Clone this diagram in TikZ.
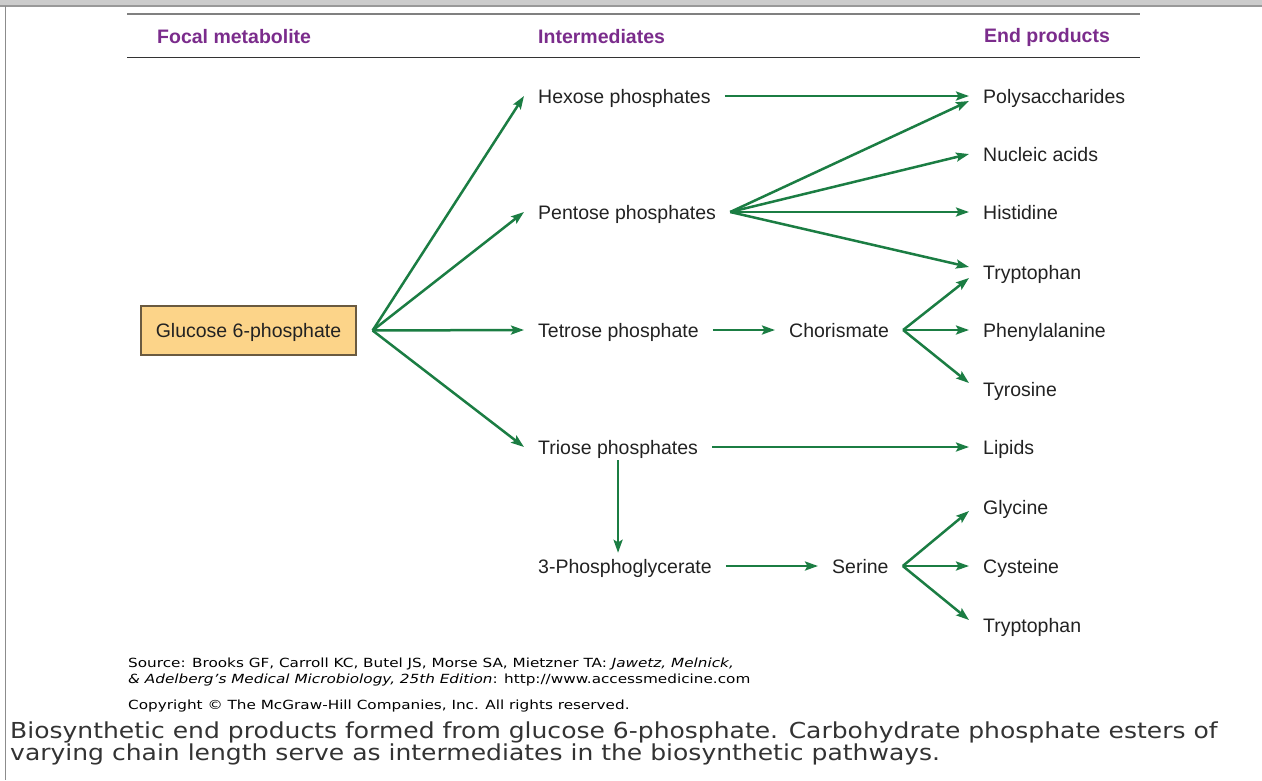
\documentclass[tikz,border=0pt]{standalone}
\usepackage{fontspec}
\setmainfont{Liberation Sans}
\newfontfamily\notefont{DejaVu Sans}[ItalicFont={DejaVu Sans Oblique}, FakeStretch=1.21]
\newfontfamily\capfont{DejaVu Sans}[FakeStretch=1.137]
\usetikzlibrary{arrows.meta,calc}

\definecolor{pathgreen}{HTML}{1B7D43}
\definecolor{headpurple}{HTML}{7B2C8C}
\definecolor{boxfill}{HTML}{FCD489}
\definecolor{boxline}{HTML}{6A5A40}
\definecolor{labeltext}{HTML}{222222}
\definecolor{captiontext}{HTML}{333333}

\tikzset{
  lbl/.style={anchor=west, font=\fontsize{19.5}{22}\selectfont, text=labeltext,
    inner xsep=14pt, inner ysep=6pt, text height=14pt, text depth=0pt},
  head/.style={anchor=west, font=\bfseries\fontsize{19.5}{22}\selectfont,
    text=headpurple, inner sep=0pt},
  focalbox/.style={draw=boxline, line width=1.2pt, fill=boxfill,
    minimum width=215pt, minimum height=49pt, inner sep=0pt,
    text height=14pt, text depth=0pt,
    font=\fontsize{19.5}{22}\selectfont, text=labeltext},
  flow/.style={draw=pathgreen, line width=2.5pt,
    -{Stealth[length=13pt,width=9pt,inset=2.5pt]}},
  note/.style={anchor=north west, inner sep=0pt, align=left,
    font=\notefont\fontsize{12.6}{16}\selectfont, text=black},
  caption/.style={anchor=north west, inner sep=0pt, align=left,
    font=\capfont\fontsize{22}{21}\selectfont, text=captiontext}
}

\begin{document}
\begin{tikzpicture}[x=1pt,y=-1pt]
\useasboundingbox (0,0) rectangle (1262,780);
\fill[white] (0,0) rectangle (1262,780);

% window frame
\fill[black!20] (0,0) rectangle (1262,6);
\draw[black!40, line width=1.2pt] (0,6) -- (1262,6);
\draw[black!45, line width=1.5pt] (5.5,6) -- (5.5,780);

% column headings and rules
\draw[black!50, line width=2.5pt] (127,14) -- (1140,14);
\draw[black!80, line width=1.4pt] (127,57.5) -- (1140,57.5);
\node[head] (hfocal) at (157,37) {Focal metabolite};
\node[head] (hinter) at (538,37) {Intermediates};
\node[head] (hend)   at (984,37) {End products};

% focal metabolite
\node[focalbox] (g6p) at (248.5,330.5) {Glucose 6-phosphate};

% intermediates
\node[lbl] (hex) at (524,96)  {Hexose phosphates};
\node[lbl] (pen) at (524,212) {Pentose phosphates};
\node[lbl] (tet) at (524,330) {Tetrose phosphate};
\node[lbl] (tri) at (524,447) {Triose phosphates};
\node[lbl] (pga) at (524,566) {3-Phosphoglycerate};
\node[lbl] (cho) at (775,330) {Chorismate};
\node[lbl] (ser) at (818,566) {Serine};

% end products
\node[lbl] (poly) at (969,96)  {Polysaccharides};
\node[lbl] (nuc)  at (969,154) {Nucleic acids};
\node[lbl] (his)  at (969,212) {Histidine};
\node[lbl] (trpa) at (969,272) {Tryptophan};
\node[lbl] (phe)  at (969,330) {Phenylalanine};
\node[lbl] (tyr)  at (969,389) {Tyrosine};
\node[lbl] (lip)  at (969,447) {Lipids};
\node[lbl] (gly)  at (969,507) {Glycine};
\node[lbl] (cys)  at (969,566) {Cysteine};
\node[lbl] (trpb) at (969,625) {Tryptophan};

% glucose 6-phosphate to the intermediates
\draw[flow] (g6p.east) ++(16,0) coordinate (gfan) -- (hex.west);
\draw[flow] (gfan) -- (pen.west);
\draw[flow] (gfan) -- (tet.west);
\draw[flow] (gfan) -- (tri.west);

% hexose phosphates
\draw[flow] (hex.east) -- (poly.west);

% pentose phosphates
\draw[flow] (pen.east) -- ($(poly.west)+(0,5)$);
\draw[flow] (pen.east) -- (nuc.west);
\draw[flow] (pen.east) -- (his.west);
\draw[flow] (pen.east) -- ($(trpa.west)+(0,-5)$);

% tetrose phosphate via chorismate
\draw[flow] (tet.east) -- (cho.west);
\draw[flow] (cho.east) -- ($(trpa.west)+(0,6)$);
\draw[flow] (cho.east) -- (phe.west);
\draw[flow] (cho.east) -- ($(tyr.west)+(0,-6)$);

% triose phosphates
\draw[flow] (tri.east) -- (lip.west);
\draw[flow] (tri.south) -- (tri.south |- pga.north);

% 3-phosphoglycerate via serine
\draw[flow] (pga.east) -- (ser.west);
\draw[flow] (ser.east) -- ($(gly.west)+(0,4)$);
\draw[flow] (ser.east) -- (cys.west);
\draw[flow] (ser.east) -- ($(trpb.west)+(0,-5)$);

% source and copyright
\node[note] (src) at (128,657.5) {Source: Brooks GF, Carroll KC, Butel JS, Morse SA, Mietzner TA: \textit{Jawetz, Melnick,}\\
\textit{\& Adelberg’s Medical Microbiology, 25th Edition}: http://www.accessmedicine.com};
\node[note] (copy) at (128,699.5) {Copyright © The McGraw-Hill Companies, Inc. All rights reserved.};

% caption
\node[caption] (cap) at (10,721.5) {Biosynthetic end products formed from glucose 6-phosphate. Carbohydrate phosphate esters of\\
varying chain length serve as intermediates in the biosynthetic pathways.};
\end{tikzpicture}
\end{document}
